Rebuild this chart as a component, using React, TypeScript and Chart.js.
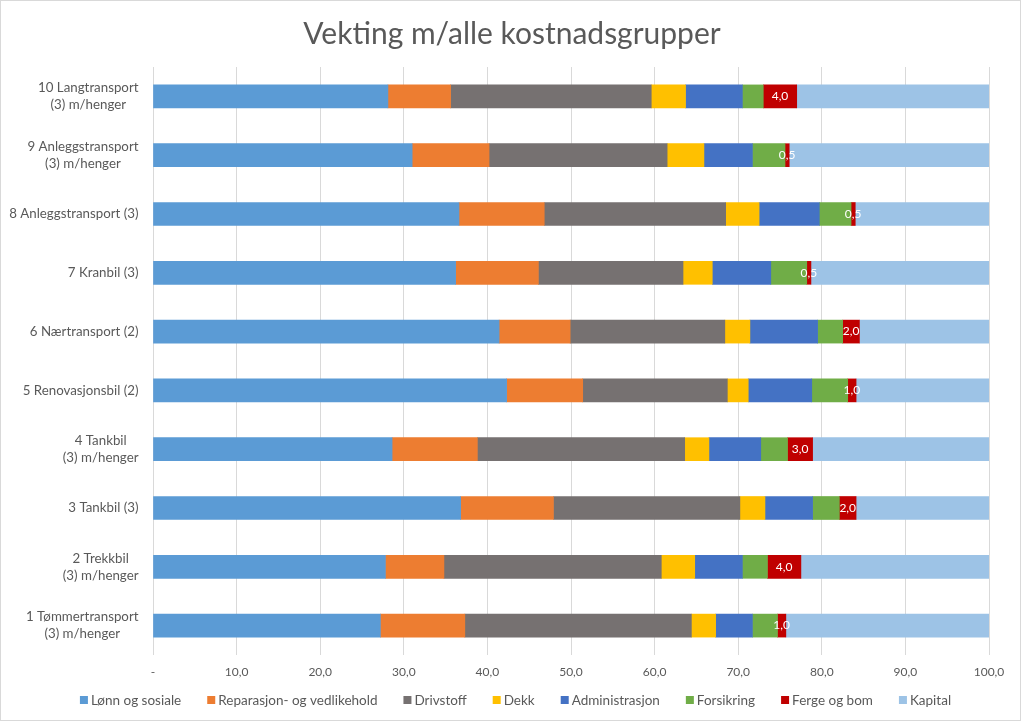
import React, { useEffect, useRef } from 'react';
import { Chart, registerables } from 'chart.js';

Chart.register(...registerables);

const chartTitle = 'Vekting m/alle kostnadsgrupper';

const categories: string[][] = [
  ['1 Tømmertransport', '(3) m/henger'],
  ['2 Trekkbil', '(3) m/henger'],
  ['3 Tankbil (3)'],
  ['4 Tankbil', '(3) m/henger'],
  ['5 Renovasjonsbil (2)'],
  ['6 Nærtransport (2)'],
  ['7 Kranbil (3)'],
  ['8 Anleggstransport (3)'],
  ['9 Anleggstransport', '(3) m/henger'],
  ['10 Langtransport', '(3) m/henger'],
];

const seriesNames = [
  'Lønn og sosiale',
  'Reparasjon- og vedlikehold',
  'Drivstoff',
  'Dekk',
  'Administrasjon',
  'Forsikring',
  'Ferge og bom',
  'Kapital',
];

const lonnOgSosiale = [27.2, 27.8, 36.8, 28.6, 42.3, 41.4, 36.2, 36.6, 31.0, 28.1];
const reparasjon = [10.1, 7.0, 11.1, 10.2, 9.1, 8.5, 9.9, 10.2, 9.2, 7.5];
const drivstoff = [27.1, 26.0, 22.3, 24.8, 17.3, 18.5, 17.3, 21.7, 21.3, 24.0];
const dekk = [2.9, 4.0, 3.0, 2.9, 2.5, 3.0, 3.5, 4.0, 4.4, 4.1];
const administrasjon = [4.4, 5.7, 5.7, 6.2, 7.6, 8.1, 7.0, 7.2, 5.8, 6.8];
const forsikring = [3.0, 3.0, 3.2, 3.2, 4.3, 3.0, 4.3, 3.8, 3.9, 2.5];
const fergeOgBom = [1.0, 4.0, 2.0, 3.0, 1.0, 2.0, 0.5, 0.5, 0.5, 4.0];
const kapital = [24.3, 22.5, 15.9, 21.1, 15.9, 15.5, 21.3, 16.0, 23.9, 23.0];

const seriesValues = [lonnOgSosiale, reparasjon, drivstoff, dekk, administrasjon, forsikring, fergeOgBom, kapital];
const seriesColors = ['#5B9BD5', '#ED7D31', '#767171', '#FFC000', '#4472C4', '#70AD47', '#C00000', '#9DC3E6'];

const xTickLabels = ['-', '10,0', '20,0', '30,0', '40,0', '50,0', '60,0', '70,0', '80,0', '90,0', '100,0'];

const labeledSeries = 6; // Ferge og bom

const FONT = 'Lato, "Open Sans", sans-serif';
const TEXT = '#595959';

const fmt = (v: number) => v.toFixed(1).replace('.', ',');

export default function App() {
  const ref = useRef<HTMLCanvasElement | null>(null);

  useEffect(() => {
    document.body.style.margin = '0';
    const canvas = ref.current!;

    const frame = {
      id: 'frame',
      beforeDraw(chart: any) {
        const ctx = chart.ctx;
        ctx.save();
        ctx.fillStyle = '#ffffff';
        ctx.fillRect(0, 0, chart.width, chart.height);
        ctx.strokeStyle = '#d9d9d9';
        ctx.lineWidth = 1;
        ctx.strokeRect(0.5, 0.5, 1020, 720);
        ctx.restore();
      },
      afterDraw(chart: any) {
        const ctx = chart.ctx;
        ctx.save();
        // title
        ctx.fillStyle = TEXT;
        ctx.font = `400 30px ${FONT}`;
        ctx.textAlign = 'center';
        ctx.textBaseline = 'alphabetic';
        ctx.fillText(chartTitle, 512, 44);

        // y labels (centered block, right aligned)
        const ys = chart.scales.y;
        ctx.font = `13.3px ${FONT}`;
        ctx.textBaseline = 'middle';
        ctx.textAlign = 'center';
        categories.forEach((lines, i) => {
          const y = ys.getPixelForTick(i);
          const maxW = Math.max(...lines.map((l) => ctx.measureText(l).width));
          const cx = 138.5 - maxW / 2;
          lines.forEach((l, j) => {
            ctx.fillText(l, cx, y + (j - (lines.length - 1) / 2) * 17);
          });
        });

        // data labels for Ferge og bom
        const meta = chart.getDatasetMeta(labeledSeries);
        ctx.font = `12px ${FONT}`;
        ctx.fillStyle = '#ffffff';
        meta.data.forEach((el: any, i: number) => {
          const p = el.getProps(['x', 'y', 'base'], true);
          ctx.fillText(fmt(fergeOgBom[i]), (p.x + p.base) / 2, p.y);
        });

        // legend
        ctx.font = `13.5px ${FONT}`;
        const box = 8;
        const gapBoxText = 3;
        const gapItems = 26;
        const widths = seriesNames.map((n) => box + gapBoxText + ctx.measureText(n).width);
        const total = widths.reduce((a, b) => a + b, 0) + gapItems * (seriesNames.length - 1);
        let x = 515.5 - total / 2;
        const ly = 700;
        ctx.textAlign = 'left';
        ctx.fillStyle = TEXT;
        seriesNames.forEach((n, i) => {
          ctx.fillStyle = seriesColors[i];
          ctx.fillRect(x, ly - box / 2, box, box);
          ctx.fillStyle = TEXT;
          ctx.fillText(n, x + box + gapBoxText, ly + 0.5);
          x += widths[i] + gapItems;
        });
        ctx.restore();
      },
    };

    const chart = new Chart(canvas, {
      type: 'bar',
      data: {
        labels: categories.map((c) => c.join(' ')),
        datasets: seriesNames.map((name, i) => ({
          label: name,
          data: seriesValues[i],
          backgroundColor: seriesColors[i],
          borderWidth: 0,
          barThickness: 23,
        })),
      },
      options: {
        indexAxis: 'y',
        responsive: false,
        animation: false,
        events: [],
        layout: { padding: { top: 67, left: 0, right: 35, bottom: 0 } },
        plugins: {
          legend: { display: false },
          title: { display: false },
          tooltip: { enabled: false },
        },
        scales: {
          x: {
            stacked: true,
            min: 0,
            max: 100,
            ticks: {
              stepSize: 10,
              padding: 10,
              color: TEXT,
              font: { family: FONT, size: 12 },
              callback: (_v: any, idx: number) => xTickLabels[idx],
            },
            grid: { color: '#d9d9d9', drawTicks: false },
            border: { display: false },
            afterFit: (s: any) => {
              s.height = 68;
            },
          },
          y: {
            stacked: true,
            reverse: true,
            ticks: { display: false },
            grid: { display: false },
            border: { display: false },
            afterFit: (s: any) => {
              s.width = 153;
            },
          },
        },
      },
      plugins: [frame],
    } as any);

    return () => chart.destroy();
  }, []);

  return (
    <div style={{ position: 'absolute', left: 0, top: 0, width: 1024, height: 723 }}>
      <canvas ref={ref} width={1024} height={723} style={{ display: 'block' }} />
    </div>
  );
}
